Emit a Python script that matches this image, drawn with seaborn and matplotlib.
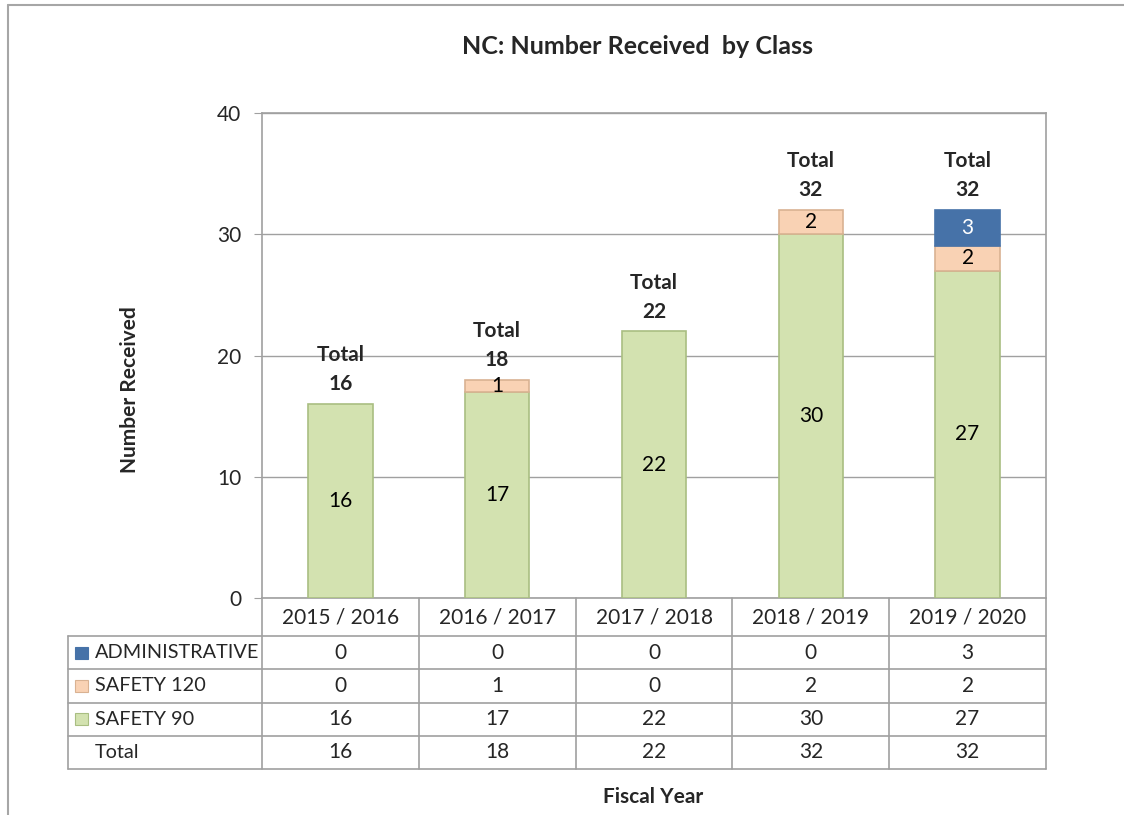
import numpy as np
import pandas as pd
import seaborn as sns
from matplotlib import pyplot as plt
from matplotlib.lines import Line2D
from matplotlib.patches import Rectangle

years = ["2015 / 2016", "2016 / 2017", "2017 / 2018", "2018 / 2019", "2019 / 2020"]
safety90 = [16, 17, 22, 30, 27]
safety120 = [0, 1, 0, 2, 2]
administrative = [0, 0, 0, 0, 3]
yticks = [0, 10, 20, 30, 40]

series_names = ["ADMINISTRATIVE", "SAFETY 120", "SAFETY 90"]
face = {"SAFETY 90": "#D3E2B0", "SAFETY 120": "#F9D2B4", "ADMINISTRATIVE": "#4672A8"}
edge = {"SAFETY 90": "#A9BE82", "SAFETY 120": "#D9B292", "ADMINISTRATIVE": "#4672A8"}

df = pd.DataFrame({"year": years, "SAFETY 90": safety90,
                   "SAFETY 120": safety120, "ADMINISTRATIVE": administrative})
df["Total"] = df[series_names].sum(axis=1)

sns.set_style("white")
plt.rcParams['font.family'] = ['Lato', 'DejaVu Sans']
grey = "#A0A0A0"
fs = 15

fig = plt.figure(figsize=(11.24, 8.15), dpi=100)
ax = fig.add_axes([262/1124, 1-598/815, 784/1124, 485/815])

# stacked bars, bottom series first
bottom = np.zeros(len(df))
for name in ["SAFETY 90", "SAFETY 120", "ADMINISTRATIVE"]:
    n_before = len(ax.patches)
    sns.barplot(data=df, x="year", y=name, order=years, color=face[name], width=0.41,
                bottom=bottom, edgecolor=edge[name], linewidth=1.2, saturation=1, ax=ax, zorder=3)
    for p in ax.patches[n_before:]:
        if p.get_height() == 0:
            p.set_visible(False)
    for i, v in enumerate(df[name]):
        if v > 0:
            ax.text(i, bottom[i] + v/2, str(v), ha="center", va="center", fontsize=fs,
                    color="white" if name == "ADMINISTRATIVE" else "black", zorder=4)
    bottom = bottom + df[name].values

for i, t in enumerate(df["Total"]):
    ax.annotate(f"Total\n{t}", (i, t), xytext=(0, 7), textcoords="offset points",
                ha="center", va="bottom", fontsize=fs, fontweight="bold", linespacing=1.55)

ax.set_xlim(-0.5, len(years) - 0.5)
ax.set_ylim(0, 40)
ax.set_yticks(yticks)
ax.set_yticklabels([str(v) for v in yticks], fontsize=fs)
ax.set_xticks([])
ax.set_xlabel("")
ax.set_ylabel("")
ax.tick_params(axis="y", length=6, color=grey, pad=9, left=True)
ax.grid(axis="y", color=grey, linewidth=1, zorder=0)
ax.set_axisbelow(True)
for s in ax.spines.values():
    s.set_color(grey)
    s.set_linewidth(1.2)

# data table under the chart
trans = ax.get_xaxis_transform()
head_h = 38/485
row_h = 33.25/485
left_x = -0.5 - (262-68)/157
n = len(years)
row_labels = series_names + ["Total"]
row_top = [-head_h - k*row_h for k in range(len(row_labels) + 1)]

line_kw = dict(color=grey, linewidth=1.2, transform=trans, clip_on=False)
for y in row_top:
    ax.add_line(Line2D([left_x, n - 0.5], [y, y], **line_kw))
ax.add_line(Line2D([left_x, left_x], [row_top[0], row_top[-1]], **line_kw))
for k in range(n + 1):
    ax.add_line(Line2D([k - 0.5, k - 0.5], [0, row_top[-1]], **line_kw))

for i, yr in enumerate(years):
    ax.text(i, -head_h/2, yr, transform=trans, ha="center", va="center", fontsize=fs)

for r, lab in enumerate(row_labels):
    yc = row_top[r] - row_h/2
    ax.text(-0.5 - (262-95)/157, yc, lab, transform=trans, ha="left", va="center", fontsize=14.3)
    if lab in face:
        ax.add_patch(Rectangle((-0.5 - (262-75)/157, yc - 6/485), 13/157, 12/485,
                               facecolor=face[lab], edgecolor=edge[lab], linewidth=0.8,
                               transform=trans, clip_on=False))
    for i, v in enumerate(df[lab]):
        ax.text(i, yc, str(v), transform=trans, ha="center", va="center", fontsize=fs)

fig.text(638/1124, 1-46/815, "NC: Number Received  by Class", ha="center", va="center",
         fontsize=18, fontweight="bold")
fig.text(130/1124, 1-390/815, "Number Received", ha="center", va="center", rotation=90,
         fontsize=15, fontweight="bold")
fig.text(653/1124, 1-797/815, "Fiscal Year", ha="center", va="center",
         fontsize=15, fontweight="bold")

# outer chart frame (top and left edges visible)
fig.add_artist(Line2D([8/1124, 1], [1-5/815, 1-5/815], color="#A6A6A6", linewidth=1.5))
fig.add_artist(Line2D([8/1124, 8/1124], [0, 1-5/815], color="#A6A6A6", linewidth=1.5))

fig.savefig("out.png", dpi=100)
